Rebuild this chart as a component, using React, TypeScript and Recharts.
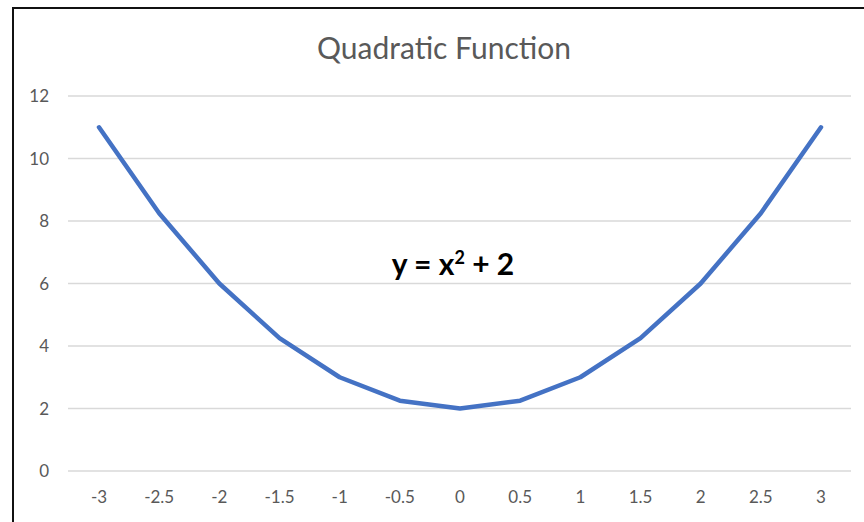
import { LineChart, Line, XAxis, YAxis, CartesianGrid, ReferenceDot } from 'recharts'

const xLabels = ['-3', '-2.5', '-2', '-1.5', '-1', '-0.5', '0', '0.5', '1', '1.5', '2', '2.5', '3']
const yValues = [11, 8.25, 6, 4.25, 3, 2.25, 2, 2.25, 3, 4.25, 6, 8.25, 11]
const yTicks = [0, 2, 4, 6, 8, 10, 12]

const data = xLabels.map((x, i) => ({ x, y: yValues[i] }))

const FONT = 'Lato, "Open Sans", sans-serif'
const GREY = '#595959'

// bold equation label with a superscript exponent
function Formula(props: any) {
  const { cx, cy } = props
  return (
    <text x={cx - 7} y={cy} textAnchor="middle" fontFamily={FONT} fontWeight={700} fontSize={30} fill="#000">
      y = x<tspan dy={-11} fontSize={18}>2</tspan><tspan dy={11}> + 2</tspan>
    </text>
  )
}

export default function App() {
  return (
    <div style={{ position: 'absolute', left: 0, top: 0, width: 864, height: 522, background: '#fff', overflow: 'hidden' }}>
      <div style={{ position: 'absolute', left: 12, top: 7, width: 900, height: 600, borderLeft: '2px solid #111', borderTop: '2px solid #111' }} />
      <div style={{ position: 'absolute', left: 0, width: 888, top: 28, textAlign: 'center', fontFamily: FONT, fontSize: 30, color: GREY, lineHeight: '38px' }}>
        Quadratic Function
      </div>
      <LineChart
        width={864}
        height={522}
        data={data}
        margin={{ top: 96, right: 13, bottom: 21, left: 18 }}
        style={{ position: 'absolute', left: 0, top: 0 }}
      >
        <CartesianGrid vertical={false} stroke="#d9d9d9" strokeWidth={1.5} />
        <XAxis
          dataKey="x"
          height={30}
          axisLine={false}
          tickLine={false}
          tickSize={0}
          tickMargin={20}
          padding={{ left: 31, right: 30 }}
          tick={{ fill: GREY, fontSize: 17, fontFamily: FONT }}
          interval={0}
        />
        <YAxis
          width={50}
          domain={[0, 12]}
          ticks={yTicks}
          axisLine={false}
          tickLine={false}
          tickSize={0}
          tickMargin={19}
          tick={{ fill: GREY, fontSize: 17, fontFamily: FONT }}
        />
        <Line
          type="linear"
          dataKey="y"
          stroke="#4472c4"
          strokeWidth={4.5}
          strokeLinejoin="round"
          strokeLinecap="round"
          dot={false}
          activeDot={false}
          isAnimationActive={false}
        />
        <ReferenceDot x="0" y={6.27} r={0} shape={<Formula />} />
      </LineChart>
    </div>
  )
}
